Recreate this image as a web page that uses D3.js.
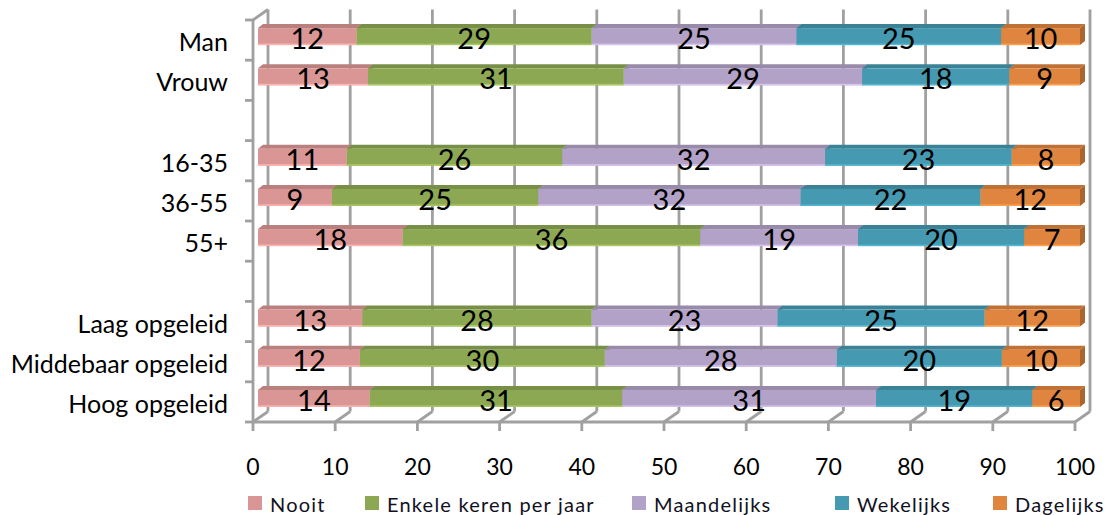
<!DOCTYPE html>
<html>
<head>
<meta charset="utf-8">
<script src="https://cdn.jsdelivr.net/npm/d3@7"></script>
<style>
  html, body { margin: 0; padding: 0; background: #fff; }
  svg { display: block; font-family: Lato, "Liberation Sans", sans-serif; }
</style>
</head>
<body>
<svg id="chart" width="1118" height="515"></svg>
<script>
// ---- data ----
const axisSlots = ["Man", "Vrouw", " ", "16-35", "36-55", "55+", "  ", "Laag opgeleid", "Middebaar opgeleid", "Hoog opgeleid"];
const categories = ["Man", "Vrouw", "16-35", "36-55", "55+", "Laag opgeleid", "Middebaar opgeleid", "Hoog opgeleid"];
const seriesNames = ["Nooit", "Enkele keren per jaar", "Maandelijks", "Wekelijks", "Dagelijks"];
const nooit       = [12.0, 13.4, 10.8,  9.0, 17.6, 12.7, 12.4, 13.6];
const enkele      = [28.6, 31.1, 26.2, 25.1, 36.2, 27.9, 29.8, 30.7];
const maandelijks = [24.9, 29.0, 32.0, 31.9, 19.2, 22.6, 28.2, 30.9];
const wekelijks   = [24.9, 17.9, 22.7, 21.9, 20.2, 25.2, 20.1, 19.0];
const dagelijks   = [ 9.6,  8.6,  8.3, 12.1,  6.8, 11.6,  9.5,  5.8];
const xTicks = [0, 10, 20, 30, 40, 50, 60, 70, 80, 90, 100];
const colors = ["#D99694", "#8DA853", "#B3A2C7", "#4599B0", "#E0853F"];

// ---- layout ----
const svg = d3.select("#chart");
svg.append("rect").attr("width", 1118).attr("height", 515).attr("fill", "#fff");

const x = d3.scaleLinear().domain([0, 100]).range([253, 1075]);
const y = d3.scaleBand().domain(axisSlots).range([20, 422]).paddingInner(0);
const D = { dx: 15, dy: -10.5 };     // wall depth
const F = { dx: 5, dy: -3.5 };       // bar front plane offset
const B = { dx: 5, dy: -4 };         // bar depth
const barH = 17;
const gridCol = "#a0a0a0";
const gw = 2.8;

const g = svg.append("g");

// back wall gridlines
g.selectAll("line.grid").data(xTicks).join("line")
  .attr("x1", d => x(d) + D.dx).attr("x2", d => x(d) + D.dx)
  .attr("y1", 20 + D.dy).attr("y2", 422 + D.dy)
  .attr("stroke", gridCol).attr("stroke-width", gw);
// floor diagonals
g.selectAll("line.floor").data(xTicks).join("line")
  .attr("x1", d => x(d)).attr("y1", 422)
  .attr("x2", d => x(d) + D.dx).attr("y2", 422 + D.dy)
  .attr("stroke", gridCol).attr("stroke-width", gw);
// left wall top diagonal
g.append("line").attr("x1", x(0)).attr("y1", 20).attr("x2", x(0) + D.dx).attr("y2", 20 + D.dy)
  .attr("stroke", gridCol).attr("stroke-width", gw);

// stacked data
const seriesVals = [nooit, enkele, maandelijks, wekelijks, dagelijks];
const rows = categories.map((c, i) => {
  const o = { cat: c };
  seriesNames.forEach((s, j) => o[s] = seriesVals[j][i]);
  return o;
});
const stack = d3.stack().keys(seriesNames)(rows);

const barsG = svg.append("g");
categories.forEach((c, ci) => {
  const y0 = y(c) + (y.bandwidth() - barH) / 2 + F.dy;
  const y1 = y0 + barH;
  stack.forEach((layer, si) => {
    const d = layer[ci];
    const xa = x(d[0]) + F.dx, xb = x(d[1]) + F.dx;
    const col = d3.color(colors[si]);
    // side face
    barsG.append("path")
      .attr("d", `M${xb},${y0}L${xb + B.dx},${y0 + B.dy}L${xb + B.dx},${y1 + B.dy}L${xb},${y1}Z`)
      .attr("fill", col.darker(0.75));
    // top face
    barsG.append("path")
      .attr("d", `M${xa},${y0}L${xa + B.dx},${y0 + B.dy}L${xb + B.dx},${y0 + B.dy}L${xb},${y0}Z`)
      .attr("fill", col.darker(0.45));
    // front face
    barsG.append("rect").attr("x", xa).attr("y", y0).attr("width", xb - xa).attr("height", barH)
      .attr("fill", col);
    barsG.append("rect").attr("x", xa).attr("y", y1 - 1.5).attr("width", xb - xa).attr("height", 1.5)
      .attr("fill", col.brighter(0.5));
  });
});

// front axes
const ax = svg.append("g");
ax.append("line").attr("x1", x(0)).attr("x2", x(100)).attr("y1", 422).attr("y2", 422)
  .attr("stroke", gridCol).attr("stroke-width", gw);
ax.append("line").attr("x1", x(0)).attr("x2", x(0)).attr("y1", 20).attr("y2", 422)
  .attr("stroke", gridCol).attr("stroke-width", gw);
ax.selectAll("line.xt").data(xTicks).join("line")
  .attr("x1", d => x(d)).attr("x2", d => x(d)).attr("y1", 422).attr("y2", 431)
  .attr("stroke", gridCol).attr("stroke-width", gw);
const yTickPos = axisSlots.map(s => y(s)).concat([y.range()[1]]);
ax.selectAll("line.yt").data(yTickPos).join("line")
  .attr("x1", x(0) - 8).attr("x2", x(0)).attr("y1", d => d).attr("y2", d => d)
  .attr("stroke", gridCol).attr("stroke-width", gw);

// x tick labels
svg.append("g").selectAll("text").data(xTicks).join("text")
  .attr("x", d => x(d)).attr("y", 466).attr("text-anchor", "middle")
  .attr("dominant-baseline", "central").attr("font-size", 23).attr("fill", "#000")
  .text(d => d);

// category labels
svg.append("g").selectAll("text").data(categories).join("text")
  .attr("x", 228).attr("y", d => y(d) + y.bandwidth() / 2 + 1).attr("text-anchor", "end")
  .attr("dominant-baseline", "central").attr("font-size", 25).attr("fill", "#000")
  .text(d => d);

// data labels
const lab = svg.append("g");
categories.forEach((c, ci) => {
  const yc = y(c) + (y.bandwidth() - barH) / 2 + F.dy + barH / 2 + 1;
  stack.forEach((layer, si) => {
    const d = layer[ci];
    lab.append("text")
      .attr("x", (x(d[0]) + x(d[1])) / 2 + F.dx).attr("y", yc)
      .attr("text-anchor", "middle").attr("dominant-baseline", "central")
      .attr("font-size", 29).attr("fill", "#000")
      .text(Math.round(d[1] - d[0]));
  });
});

// legend
const legendX = [248, 365, 632, 835, 993];
const lg = svg.append("g");
seriesNames.forEach((s, i) => {
  lg.append("rect").attr("x", legendX[i]).attr("y", 496).attr("width", 14).attr("height", 14)
    .attr("fill", colors[i]);
  lg.append("text").attr("x", legendX[i] + 22).attr("y", 503.5)
    .attr("dominant-baseline", "central").attr("font-size", 20).attr("letter-spacing", 1.2)
    .attr("fill", "#111122").text(s);
});
</script>
</body>
</html>
